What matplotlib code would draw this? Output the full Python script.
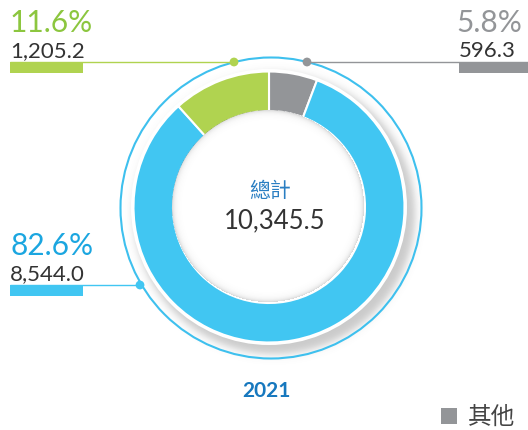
import numpy as np
import matplotlib
matplotlib.use("Agg")
import matplotlib.pyplot as plt
from matplotlib.patches import Circle

plt.rcParams['font.family'] = ['Lato', 'Noto Sans CJK TC', 'DejaVu Sans']

# data (clockwise from the top)
categories = ['其他', '藍', '綠']
values = [596.3, 8544.0, 1205.2]
percents = ['5.8%', '82.6%', '11.6%']
total_label = '總計'
total_value = '10,345.5'
year = '2021'

colors = ['#939598', '#41C6F2', '#B0D350']
text_colors = ['#939598', '#1BA6E0', '#8CC63F']

W, H = 528, 430
fig = plt.figure(figsize=(W / 100, H / 100), dpi=100)
ax = fig.add_axes([0, 0, 1, 1])

cx, cy = 269, 207       # donut centre (pixels, y down)
r_out, r_in = 135.5, 96
rcx, rcy, r_ring = 271, 208, 150.5

yy, xx = np.mgrid[0:H, 0:W] + 0.5

# soft drop shadow, lower right
d = np.hypot(xx - 274.5, yy - 213.5)
a = 0.32 / (1 + np.exp((d - 140.5) / 2.5))
shadow = np.zeros((H, W, 4))
shadow[..., :3] = 0.35
shadow[..., 3] = a
ax.imshow(shadow, extent=(0, W, H, 0), origin='upper', zorder=1, interpolation='bilinear')

ax.add_patch(Circle((cx, cy), r_out + 2.5, facecolor='white', edgecolor='none', zorder=2))
ax.add_patch(Circle((rcx, rcy), r_ring, facecolor='none', edgecolor='#3EC0EE', linewidth=1.5, zorder=3))

wedges, _ = ax.pie(values, colors=colors, startangle=-90, counterclock=True,
                   radius=r_out, center=(cx, cy),
                   wedgeprops=dict(width=r_out - r_in, edgecolor='white', linewidth=1.5))
for w in wedges:
    w.set_zorder(4)

# inner shadow in the hole
ax.add_patch(Circle((cx, cy), r_in, facecolor='white', edgecolor='none', zorder=5))
d2 = np.hypot(xx - cx + 1, yy - cy + 1)
a2 = np.where(d2 < r_in, 0.22 * np.exp(-(r_in - d2) / 2.5), 0)
inner = np.zeros((H, W, 4))
inner[..., :3] = 0.3
inner[..., 3] = a2
ax.imshow(inner, extent=(0, W, H, 0), origin='upper', zorder=6, interpolation='bilinear')

# leader lines, dots, bars and labels
# (line y, dot x, bar x0, text x, line end x)
layout = [
    (62, 307, 459, 459, 528),
    (285, 140, 10, 10, 10),
    (62, 234, 10, 10, 10),
]
for i, (ly, dx, bx, tx, lx) in enumerate(layout):
    ax.plot([dx, lx], [ly, ly], color=colors[i], linewidth=1, zorder=7, solid_capstyle='butt')
    ax.scatter([dx], [ly], s=40, color=colors[i], zorder=8, edgecolors='none')
    ax.fill_between([bx, bx + 73], ly, ly + 11, color=colors[i], linewidth=0, zorder=7)
    px = tx if i else 522
    ax.text(px, ly - 30, percents[i], color=text_colors[i], fontsize=21.5,
            ha='left' if i else 'right', va='baseline', zorder=9)
    ax.text(tx, ly - 5, f'{values[i]:,.1f}', color='#333333', fontsize=16,
            ha='left', va='baseline', zorder=9)

ax.text(270, 197, total_label, color='#2A7EC2', fontsize=15, ha='center', va='baseline', zorder=9)
ax.text(275, 228, total_value, color='#333333', fontsize=18.5, ha='center', va='baseline', zorder=9)
ax.text(266, 397, year, color='#1778BE', fontsize=15, fontweight='bold', ha='center',
        va='baseline', zorder=9)

leg = ax.legend([wedges[0]], [categories[0]], loc='lower right',
                bbox_to_anchor=(515 / W, 0.004),
                frameon=False, fontsize=17, handlelength=0.68, handleheight=0.68,
                handletextpad=0.45, borderpad=0.0, borderaxespad=0.0, labelcolor='#444444')
leg.legend_handles[0].set_edgecolor('none')

ax.set_xlim(0, W)
ax.set_ylim(H, 0)
ax.set_aspect('equal')
ax.axis('off')

fig.savefig('out.png', dpi=100)
